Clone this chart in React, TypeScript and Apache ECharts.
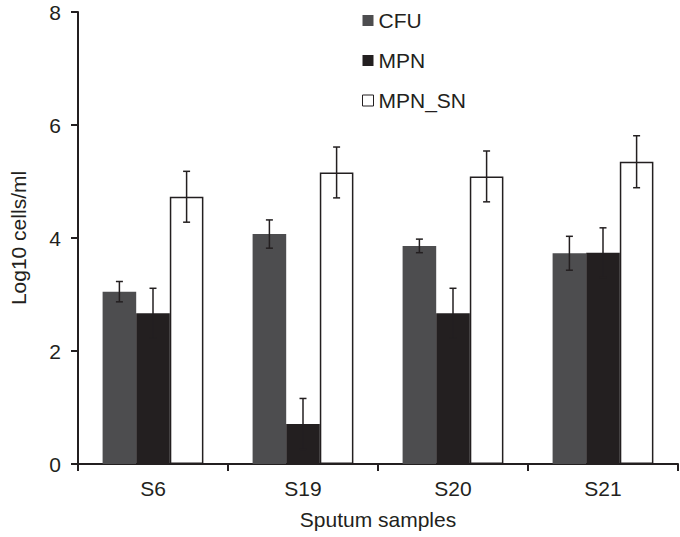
import React, { useEffect, useRef } from "react";
import * as echarts from "echarts";

const categories = ["S6", "S19", "S20", "S21"];
const seriesNames = ["CFU", "MPN", "MPN_SN"];
const cfuValues = [3.05, 4.07, 3.86, 3.73];
const cfuErrors = [0.18, 0.25, 0.12, 0.3];
const mpnValues = [2.67, 0.71, 2.67, 3.74];
const mpnErrors = [0.44, 0.45, 0.44, 0.44];
const mpnSnValues = [4.73, 5.16, 5.09, 5.35];
const mpnSnErrors = [0.45, 0.45, 0.45, 0.46];
const yTicks = [0, 2, 4, 6, 8];

const BAR_FRAC = 0.224;

export default function App() {
  const ref = useRef<HTMLDivElement>(null);
  useEffect(() => {
    if (!ref.current) return;
    const chart = echarts.init(ref.current, null, { renderer: "svg" });
    const values = [cfuValues, mpnValues, mpnSnValues];
    const errors = [cfuErrors, mpnErrors, mpnSnErrors];
    const colors = ["#4d4d4f", "#231f20", "#ffffff"];
    const axisColor = "#231f20";
    const font = "Liberation Sans, Arial, sans-serif";

    const barSeries = seriesNames.map((name, i) => ({
      name,
      type: "bar",
      data: values[i],
      barWidth: BAR_FRAC * 100 + "%",
      barGap: "0%",
      itemStyle: {
        color: colors[i],
        borderColor: i === 2 ? "#231f20" : colors[i],
        borderWidth: i === 2 ? 1.5 : 0,
      },
      z: 2,
    }));

    const errSeries = seriesNames.map((name, i) => ({
      name: name + "_err",
      type: "custom",
      z: 5,
      silent: true,
      data: values[i].map((v, k) => [k, v - errors[i][k], v + errors[i][k]]),
      renderItem: (params: any, api: any) => {
        const k = api.value(0);
        const lo = api.coord([k, api.value(1)]);
        const hi = api.coord([k, api.value(2)]);
        const band = api.size([1, 0])[0];
        const bw = band * BAR_FRAC;
        const x = lo[0] + (i - 1) * bw;
        const cap = 3.5;
        const style = { stroke: "#231f20", lineWidth: 1.5, fill: "none" };
        return {
          type: "group",
          children: [
            { type: "line", shape: { x1: x, y1: lo[1], x2: x, y2: hi[1] }, style },
            { type: "line", shape: { x1: x - cap, y1: hi[1], x2: x + cap, y2: hi[1] }, style },
            { type: "line", shape: { x1: x - cap, y1: lo[1], x2: x + cap, y2: lo[1] }, style },
          ],
        };
      },
    }));

    chart.setOption({
      animation: false,
      backgroundColor: "#ffffff",
      textStyle: { fontFamily: font },
      grid: { left: 71, right: 2, top: 12, bottom: 73 },
      legend: {
        data: seriesNames.map((n, i) => ({
          name: n,
          itemStyle: {
            color: colors[i],
            borderColor: i === 2 ? "#231f20" : colors[i],
            borderWidth: i === 2 ? 1 : 0,
          },
        })),
        orient: "vertical",
        left: 357,
        top: 5,
        icon: "rect",
        itemWidth: 11,
        itemHeight: 11,
        itemGap: 19,
        textStyle: { fontSize: 21, color: "#231f20", fontFamily: font },
      },
      xAxis: {
        type: "category",
        data: categories,
        axisLine: { lineStyle: { color: axisColor, width: 2 } },
        axisTick: { show: true, length: 7, lineStyle: { color: axisColor, width: 2 } },
        axisLabel: { fontSize: 21, color: "#231f20", margin: 14, fontFamily: font },
        name: "Sputum samples",
        nameLocation: "middle",
        nameGap: 45,
        nameTextStyle: { fontSize: 21, color: "#231f20", fontFamily: font },
      },
      yAxis: {
        type: "value",
        min: yTicks[0],
        max: yTicks[yTicks.length - 1],
        interval: 2,
        axisLine: { show: true, lineStyle: { color: axisColor, width: 2 } },
        axisTick: { show: true, length: 7, lineStyle: { color: axisColor, width: 2 } },
        splitLine: { show: false },
        axisLabel: { fontSize: 21, color: "#231f20", margin: 17, fontFamily: font },
        name: "Log10 cells/ml",
        nameLocation: "middle",
        nameGap: 49,
        nameTextStyle: { fontSize: 21, color: "#231f20", fontFamily: font },
      },
      series: [...barSeries, ...errSeries],
    });
    return () => chart.dispose();
  }, []);
  return (
    <div
      ref={ref}
      style={{ position: "fixed", left: 0, top: 0, width: 680, height: 537 }}
    />
  );
}
